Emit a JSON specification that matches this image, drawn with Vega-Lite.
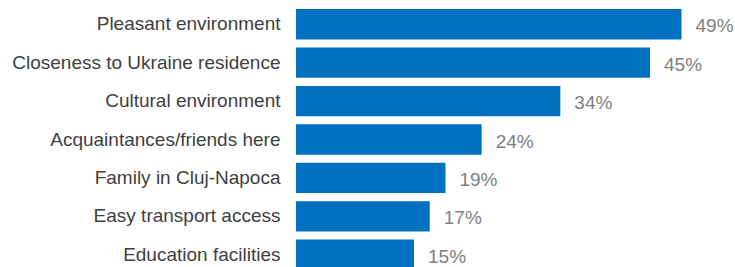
{
  "$schema": "https://vega.github.io/schema/vega-lite/v6.json",
  "autosize": {"type": "none"},
  "padding": {"left": 296, "top": 5, "right": 0, "bottom": 0},
  "width": 439,
  "height": 269,
  "background": "white",
  "config": {"view": {"stroke": null}, "font": "Liberation Sans"},
  "data": {
    "values": [
      {"reason": "Pleasant environment", "share": 0.49},
      {"reason": "Closeness to Ukraine residence", "share": 0.45},
      {"reason": "Cultural environment", "share": 0.336},
      {"reason": "Acquaintances/friends here", "share": 0.236},
      {"reason": "Family in Cluj-Napoca", "share": 0.19},
      {"reason": "Easy transport access", "share": 0.17},
      {"reason": "Education facilities", "share": 0.15}
    ]
  },
  "encoding": {
    "y": {
      "field": "reason", "type": "nominal", "sort": null,
      "scale": {"paddingInner": 0.21, "paddingOuter": 0.105},
      "axis": {"title": null, "domain": false, "ticks": false, "labelPadding": 16, "labelFontSize": 19, "labelColor": "#404040", "labelFont": "Liberation Sans", "labelLimit": 400}
    },
    "x": {
      "field": "share", "type": "quantitative",
      "scale": {"domain": [0, 0.558], "nice": false, "zero": true},
      "axis": null
    }
  },
  "layer": [
    {"mark": {"type": "bar", "color": "#0070C0"}},
    {
      "mark": {"type": "text", "align": "left", "baseline": "middle", "dx": 14, "dy": 2, "fontSize": 19, "color": "#808080", "font": "Liberation Sans"},
      "encoding": {"text": {"field": "share", "type": "quantitative", "format": ".0%"}}
    }
  ]
}
